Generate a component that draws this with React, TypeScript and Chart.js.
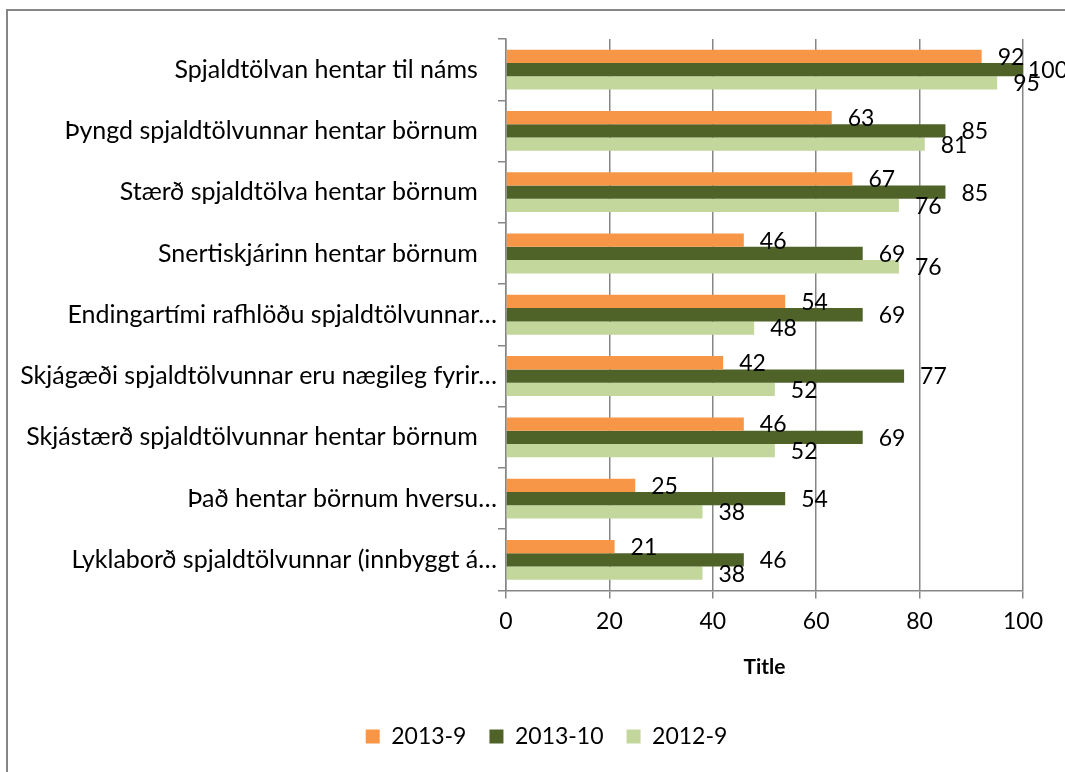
import React, { useEffect, useRef } from "react";
import { Chart, registerables } from "chart.js";

Chart.register(...registerables);

const categories = [
  "Spjaldtölvan hentar til náms",
  "Þyngd spjaldtölvunnar hentar börnum",
  "Stærð spjaldtölva hentar börnum",
  "Snertiskjárinn hentar börnum",
  "Endingartími rafhlöðu spjaldtölvunnar…",
  "Skjágæði spjaldtölvunnar eru nægileg fyrir…",
  "Skjástærð spjaldtölvunnar hentar börnum",
  "Það hentar börnum hversu…",
  "Lyklaborð spjaldtölvunnar (innbyggt á…",
];

const seriesNames = ["2013-9", "2013-10", "2012-9"];
const values2013_9 = [92, 63, 67, 46, 54, 42, 46, 25, 21];
const values2013_10 = [100, 85, 85, 69, 69, 77, 69, 54, 46];
const values2012_9 = [95, 81, 76, 76, 48, 52, 52, 38, 38];
const seriesColors = ["#F79646", "#4F6228", "#C3D69B"];
const xTickValues = [0, 20, 40, 60, 80, 100];
const axisTitle = "Title";

const FONT = "Lato";
const GRID = "#868686";
const LEGEND_LEFT = 70;

const framePlugin = {
  id: "frame",
  beforeDraw(chart: any) {
    const ctx = chart.ctx;
    ctx.save();
    ctx.fillStyle = "#ffffff";
    ctx.fillRect(0, 0, chart.width, chart.height);
    ctx.strokeStyle = GRID;
    ctx.lineWidth = 2;
    ctx.strokeRect(7, 10, chart.width + 20, chart.height + 20);
    ctx.restore();
    // centre the legend under the whole chart box as in the reference
    if (chart.legend) chart.legend.left = LEGEND_LEFT;
  },
};

const valueLabelPlugin = {
  id: "valueLabels",
  afterDatasetsDraw(chart: any) {
    const ctx = chart.ctx;
    ctx.save();
    ctx.font = `23px ${FONT}`;
    ctx.fillStyle = "#000000";
    ctx.textAlign = "left";
    ctx.textBaseline = "middle";
    chart.data.datasets.forEach((ds: any, di: number) => {
      const meta = chart.getDatasetMeta(di);
      meta.data.forEach((el: any, i: number) => {
        const txt = String(ds.data[i]);
        const w = ctx.measureText(txt).width;
        const x = Math.max(el.x + 4, Math.min(el.x + 16, chart.width + 3 - w));
        ctx.fillText(txt, x, el.y + 1);
      });
    });
    ctx.restore();
  },
};

export default function App() {
  const ref = useRef<HTMLCanvasElement | null>(null);

  useEffect(() => {
    if (!ref.current) return;
    const allSeries = [values2013_9, values2013_10, values2012_9];
    const chart = new Chart(ref.current, {
      type: "bar",
      data: {
        labels: categories,
        datasets: allSeries.map((vals, i) => ({
          label: seriesNames[i],
          data: vals,
          backgroundColor: seriesColors[i],
          borderWidth: 0,
          categoryPercentage: 0.65,
          barPercentage: 1.0,
        })),
      },
      options: {
        indexAxis: "y",
        responsive: false,
        animation: false,
        devicePixelRatio: 1,
        layout: { padding: { top: 39, right: 42, bottom: 14, left: 0 } },
        plugins: {
          legend: {
            position: "bottom",
            labels: {
              font: { family: FONT, size: 23 },
              color: "#000000",
              boxWidth: 14,
              boxHeight: 14,
              padding: 23,
            },
          },
          tooltip: { enabled: false },
        },
        scales: {
          x: {
            min: 0,
            max: 100,
            afterBuildTicks: (s: any) => {
              s.ticks = xTickValues.map((v) => ({ value: v }));
            },
            afterFit: (s: any) => {
              s.height = 111.5;
            },
            ticks: {
              font: { family: FONT, size: 23 },
              color: "#000000",
              padding: 9,
            },
            grid: { color: GRID, lineWidth: 1.5, tickLength: 8 },
            border: { color: GRID, width: 1.5 },
            title: {
              display: true,
              text: axisTitle,
              font: { family: FONT, size: 21, weight: "bold" },
              color: "#000000",
              padding: { top: 4, bottom: 22 },
            },
          },
          y: {
            afterFit: (s: any) => {
              s.width = 506;
            },
            ticks: {
              font: { family: FONT, size: 25 },
              color: "#000000",
              padding: 1,
              autoSkip: false,
              callback: (_v: any, i: number) => {
                const t = categories[i];
                return t.endsWith("…") ? t : t + "   ";
              },
            },
            grid: {
              drawOnChartArea: false,
              color: GRID,
              lineWidth: 1.5,
              tickLength: 8,
            },
            border: { color: GRID, width: 1.5 },
          },
        },
      },
      plugins: [framePlugin, valueLabelPlugin],
    } as any);
    return () => chart.destroy();
  }, []);

  return (
    <div style={{ position: "absolute", left: 0, top: 0, width: 1065, height: 772 }}>
      <canvas ref={ref} width={1065} height={772} style={{ display: "block" }} />
    </div>
  );
}
